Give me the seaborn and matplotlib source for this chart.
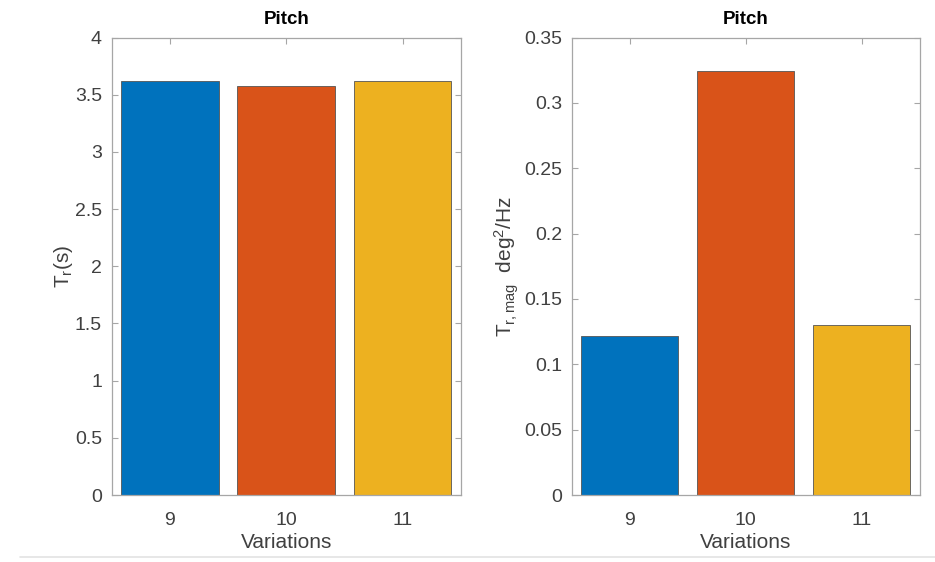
import matplotlib
matplotlib.use("Agg")
import matplotlib.pyplot as plt
import seaborn as sns
import pandas as pd
from matplotlib.lines import Line2D

variations = ["9", "10", "11"]
tr_values = [3.62, 3.58, 3.62]
trmag_values = [0.122, 0.3245, 0.130]
colors = ["#0072BD", "#D95319", "#EDB120"]
titles = ["Pitch", "Pitch"]
ylabels = ["T$_{r}$(s)", "T$_{r,mag}$  deg$^{2}$/Hz"]
yticks_left = [0, 0.5, 1, 1.5, 2, 2.5, 3, 3.5, 4]
yticks_right = [0, 0.05, 0.1, 0.15, 0.2, 0.25, 0.3, 0.35]

sns.set_style("white")
plt.rcParams['font.family'] = ['Liberation Sans', 'DejaVu Sans']
plt.rcParams['mathtext.fontset'] = 'custom'
plt.rcParams['mathtext.rm'] = 'Liberation Sans'
plt.rcParams['mathtext.it'] = 'Liberation Sans'

W, H = 935, 562
fig = plt.figure(figsize=(W / 100, H / 100), dpi=100)

def rect(x0, x1, y0, y1):
    return [x0 / W, 1 - y1 / H, (x1 - x0) / W, (y1 - y0) / H]

ax1 = fig.add_axes(rect(111.7, 460.7, 37.5, 495))
ax2 = fig.add_axes(rect(571.7, 919.5, 37.5, 495))

spine_c = "#a6a6a6"

for ax, vals, title, ylab, yt, ymax, lp in [
    (ax1, tr_values, titles[0], ylabels[0], yticks_left, 4, 0),
    (ax2, trmag_values, titles[1], ylabels[1], yticks_right, 0.35, 2),
]:
    df = pd.DataFrame({"Variations": variations, "val": vals})
    sns.barplot(data=df, x="Variations", y="val", hue="Variations",
                order=variations, hue_order=variations, palette=colors,
                width=0.84, edgecolor="#555555", linewidth=0.6,
                saturation=1, legend=False, ax=ax)
    ax.set_xlim(-0.5, 2.5)
    ax.set_ylim(0, ymax)
    ax.set_yticks(yt)
    ax.set_yticklabels([f"{v:g}" for v in yt])
    ax.set_title(title, fontsize=13.5, fontweight="bold", color="black", pad=10)
    ax.set_xlabel("Variations", fontsize=15, color="#404040", labelpad=3)
    ax.set_ylabel(ylab, fontsize=15, color="#404040", labelpad=lp)
    for s in ax.spines.values():
        s.set_visible(True)
        s.set_color(spine_c)
        s.set_linewidth(0.9)
    ax.tick_params(axis="both", direction="in", length=4, width=0.8,
                   color=spine_c, labelsize=14, labelcolor="#404040",
                   top=True, right=True, bottom=True, left=True, pad=7)
    ax.tick_params(axis="x", pad=12)

fig.add_artist(Line2D([20 / W, 1.0], [1 - 556.5 / H, 1 - 556.5 / H],
                      color="#e3e3e3", linewidth=1.2, transform=fig.transFigure))

fig.savefig("out.png", dpi=100)
